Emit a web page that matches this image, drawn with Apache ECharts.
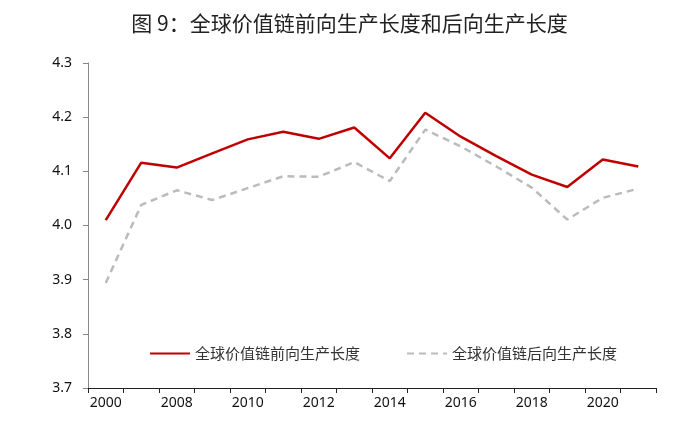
<!DOCTYPE html>
<html><head><meta charset="utf-8">
<script src="https://cdn.jsdelivr.net/npm/echarts@6/dist/echarts.min.js"></script>
<style>html,body{margin:0;padding:0;background:#fff}#c{width:699px;height:421px}</style>
</head><body><div id="c"></div>
<script>
const categories = ['2000','2007','2008','2009','2010','2011','2012','2013','2014','2015','2016','2017','2018','2019','2020','2021'];
const forward = [4.010,4.116,4.107,4.133,4.159,4.173,4.160,4.181,4.124,4.208,4.164,4.128,4.094,4.071,4.122,4.109];
const backward = [3.894,4.038,4.065,4.047,4.069,4.091,4.090,4.117,4.082,4.177,4.146,4.109,4.070,4.011,4.051,4.068];
const yTicks = {min:3.7, max:4.3, interval:0.1};
const chart = echarts.init(document.getElementById('c'));
const cjk = '"Noto Sans CJK SC", "Noto Sans", sans-serif';
chart.setOption({
  animation:false,
  backgroundColor:'#fff',
  title:{text:'图 9：全球价值链前向生产长度和后向生产长度', left:'center', top:8,
    textStyle:{fontFamily:cjk, fontSize:21, fontWeight:'normal', color:'#222'}},
  legend:{left:144, top:341, itemWidth:40, itemHeight:10, itemGap:46,
    itemStyle:{opacity:0},
    textStyle:{fontFamily:cjk, fontSize:15, color:'#333'},
    data:['全球价值链前向生产长度','全球价值链后向生产长度']},
  grid:{left:88, right:43, top:63, bottom:33, containLabel:false},
  xAxis:{type:'category', data:categories, boundaryGap:true,
    axisLine:{lineStyle:{color:'#222', width:1}},
    axisTick:{show:true, interval:0, length:5, lineStyle:{color:'#222'}},
    axisLabel:{interval:1, color:'#111', fontSize:14, fontFamily:'"Noto Sans", sans-serif', margin:8}},
  yAxis:{type:'value', min:yTicks.min, max:yTicks.max, interval:yTicks.interval,
    splitLine:{show:false},
    axisLine:{show:true, lineStyle:{color:'#888'}},
    axisTick:{show:true, length:5, lineStyle:{color:'#888'}},
    axisLabel:{color:'#111', fontSize:14, fontFamily:'"Noto Sans", sans-serif', margin:16,
      formatter:v=>v.toFixed(1)}},
  series:[
    {name:'全球价值链前向生产长度', type:'line', data:forward, symbol:'none',
      lineStyle:{color:'#C00000', width:2.5}, itemStyle:{color:'#C00000'}},
    {name:'全球价值链后向生产长度', type:'line', data:backward, symbol:'none',
      lineStyle:{color:'#BBBBBB', width:2.5, type:[7,5]}, itemStyle:{color:'#BBBBBB'}}
  ]
});
</script></body></html>
